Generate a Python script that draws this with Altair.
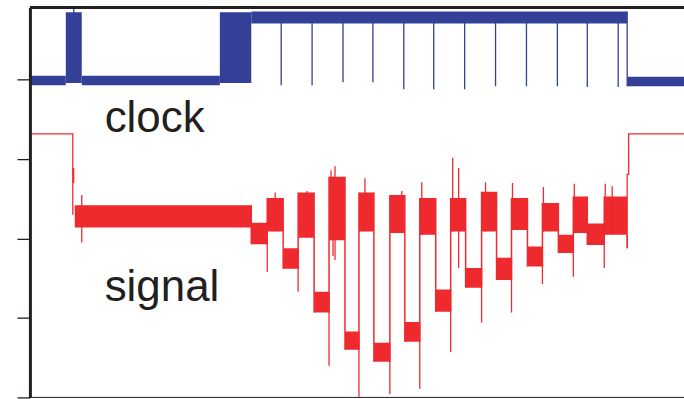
import altair as alt
import pandas as pd

BLUE = "#343f98"
RED = "#ee2a2f"
INK = "#231f20"

# ---- clock trace: noisy bands (start time, end time, upper level, lower level)
clk_t0 = [0, 36, 52, 190.5, 222, 599]
clk_t1 = [36, 52, 190.5, 222, 599, 656]
clk_hi = [4.05, 4.85, 4.05, 4.85, 4.86, 4.04]
clk_lo = [3.93, 3.96, 3.93, 3.96, 4.71, 3.92]

# clock glitches (time, top level, bottom level)
clk_sp_t = [44, 252, 283, 314, 344, 375, 405, 436, 467, 498, 529, 559, 590, 599]
clk_sp_top = [4.91, 4.80, 4.80, 4.80, 4.80, 4.80, 4.80, 4.80, 4.80, 4.80, 4.80, 4.80, 4.80, 4.86]
clk_sp_bot = [4.80, 3.93, 3.93, 3.97, 3.97, 3.88, 3.88, 3.88, 3.92, 3.92, 3.92, 3.91, 3.91, 3.92]

# ---- signal trace: noisy bands
sig_t0 = [43, 45, 222, 238, 254, 269, 285, 300, 316, 330, 345, 361, 376, 391, 407, 422, 437, 453, 468, 483, 499, 514, 530, 545, 559, 576]
sig_t1 = [44.5, 222, 238, 254, 269, 285, 300, 316, 330, 345, 361, 376, 391, 407, 422, 437, 453, 468, 483, 499, 514, 530, 545, 559, 576, 599]
sig_hi = [2.89, 2.42, 2.20, 2.51, 1.88, 2.58, 1.33, 2.78, 0.83, 2.58, 0.69, 2.55, 0.95, 2.51, 1.36, 2.51, 1.63, 2.59, 1.76, 2.51, 1.90, 2.45, 2.05, 2.53, 2.19, 2.53]
sig_lo = [2.70, 2.14, 1.93, 2.09, 1.62, 2.01, 1.07, 1.98, 0.60, 2.09, 0.45, 2.07, 0.70, 2.05, 1.08, 2.09, 1.38, 2.09, 1.48, 2.11, 1.65, 2.09, 1.82, 2.07, 1.92, 2.05]

# signal spikes (time, top level, bottom level)
sig_sp_t = [52, 246, 278, 302, 306, 304, 336, 373, 393, 424, 430, 457, 484, 515, 546, 577, 584,
            238, 269, 300, 330, 361, 391, 422, 453, 483, 514, 545, 576, 599]
sig_sp_top = [2.55, 2.58, 2.60, 2.86, 2.91, 2.78, 2.76, 2.60, 2.71, 3.02, 2.89, 2.71, 2.70, 2.65, 2.69, 2.69, 2.66,
              2.20, 1.88, 1.33, 0.83, 0.69, 0.95, 1.36, 1.63, 1.76, 1.90, 2.05, 2.19, 2.05]
sig_sp_bot = [1.95, 2.09, 2.01, 1.98, 1.73, 1.78, 2.09, 2.07, 2.05, 2.09, 1.63, 2.09, 2.11, 2.09, 2.07, 2.05, 2.05,
              1.58, 1.33, 0.40, 0.01, 0.04, 0.11, 0.57, 0.94, 1.07, 1.43, 1.52, 1.63, 1.88]

# signal quiet levels (thin line pieces)
line_piece = ["a", "a", "a", "b", "b", "b", "b", "b"]
line_t = [0, 43, 43, 599, 599, 600.5, 600.5, 656]
line_v = [3.32, 3.32, 2.30, 1.88, 2.81, 2.81, 3.32, 3.32]

# labels
lab_text = ["clock", "signal"]
lab_t = [75, 75]
lab_v = [3.34, 1.21]

# frame lines: level, stroke width
frame_v = [4.91, 0.0]
frame_w = [3.0, 1.0]

T_MIN, T_MAX = 0, 656
V_MIN, V_MAX = 0, 4.91

clk = pd.DataFrame({"t0": clk_t0, "t1": clk_t1, "hi": clk_hi, "lo": clk_lo})
clk_sp = pd.DataFrame({"t": clk_sp_t, "top": clk_sp_top, "bot": clk_sp_bot})
sig = pd.DataFrame({"t0": sig_t0, "t1": sig_t1, "hi": sig_hi, "lo": sig_lo})
sig_sp = pd.DataFrame({"t": sig_sp_t, "top": sig_sp_top, "bot": sig_sp_bot})
# connectors between consecutive signal bands
conn = pd.DataFrame({
    "t": sig_t1[1:-1],
    "top": [max(a, b) for a, b in zip(sig_hi[1:-1], sig_hi[2:])],
    "bot": [min(a, b) for a, b in zip(sig_lo[1:-1], sig_lo[2:])],
})
lines = pd.DataFrame({"piece": line_piece, "t": line_t, "v": line_v, "i": list(range(len(line_t)))})
labels = pd.DataFrame({"text": lab_text, "t": lab_t, "v": lab_v})
frame = pd.DataFrame({"v": frame_v, "w": frame_w, "a": [T_MIN, T_MIN], "b": [T_MAX, T_MAX]})

xs = alt.Scale(domain=[T_MIN, T_MAX], nice=False, zero=False)
ys = alt.Scale(domain=[V_MIN, V_MAX], nice=False, zero=False)

yaxis = alt.Axis(values=[0, 1, 2, 3, 4], labels=False, title=None, grid=False, domain=True,
                 domainColor=INK, domainWidth=3, tickColor=INK, tickSize=13, tickWidth=1.3, zindex=2)


def X(f):
    return alt.X(f, scale=xs, axis=None, title=None)


def Y(f):
    return alt.Y(f, scale=ys, axis=yaxis, title=None)


clk_rect = alt.Chart(clk).mark_rect(color=BLUE, clip=True).encode(
    x=X("t0:Q"), x2="t1:Q", y=Y("hi:Q"), y2="lo:Q",
)
clk_rule = alt.Chart(clk_sp).mark_rule(color=BLUE, strokeWidth=1.3, clip=True).encode(
    x=X("t:Q"), y=Y("top:Q"), y2="bot:Q",
)
sig_rect = alt.Chart(sig).mark_rect(color=RED, clip=True).encode(
    x=X("t0:Q"), x2="t1:Q", y=Y("hi:Q"), y2="lo:Q",
)
sig_conn = alt.Chart(conn).mark_rule(color=RED, strokeWidth=1.5, clip=True).encode(
    x=X("t:Q"), y=Y("top:Q"), y2="bot:Q",
)
sig_rule = alt.Chart(sig_sp).mark_rule(color=RED, strokeWidth=1.3, clip=True).encode(
    x=X("t:Q"), y=Y("top:Q"), y2="bot:Q",
)
sig_line = alt.Chart(lines).mark_line(color=RED, strokeWidth=1.3, clip=True).encode(
    x=X("t:Q"), y=Y("v:Q"), detail="piece:N", order="i:Q",
)
text = alt.Chart(labels).mark_text(
    font="Liberation Sans", fontSize=44, color=INK, align="left", baseline="alphabetic"
).encode(
    x=X("t:Q"), y=Y("v:Q"), text="text:N",
)
frame_rule = alt.Chart(frame).mark_rule(color=INK).encode(
    x=X("a:Q"), x2="b:Q", y=Y("v:Q"),
    strokeWidth=alt.StrokeWidth("w:Q", scale=None, legend=None),
)

chart = alt.layer(clk_rect, clk_rule, sig_rect, sig_conn, sig_rule, sig_line, text, frame_rule).properties(
    width=656, height=391,
    padding={"left": 30, "top": 7, "right": 0, "bottom": 1},
    autosize=alt.AutoSizeParams(type="none"),
    background="white",
).configure_view(
    stroke=None
)

chart.save("out.html", embed_options={"renderer": "svg", "actions": False})
